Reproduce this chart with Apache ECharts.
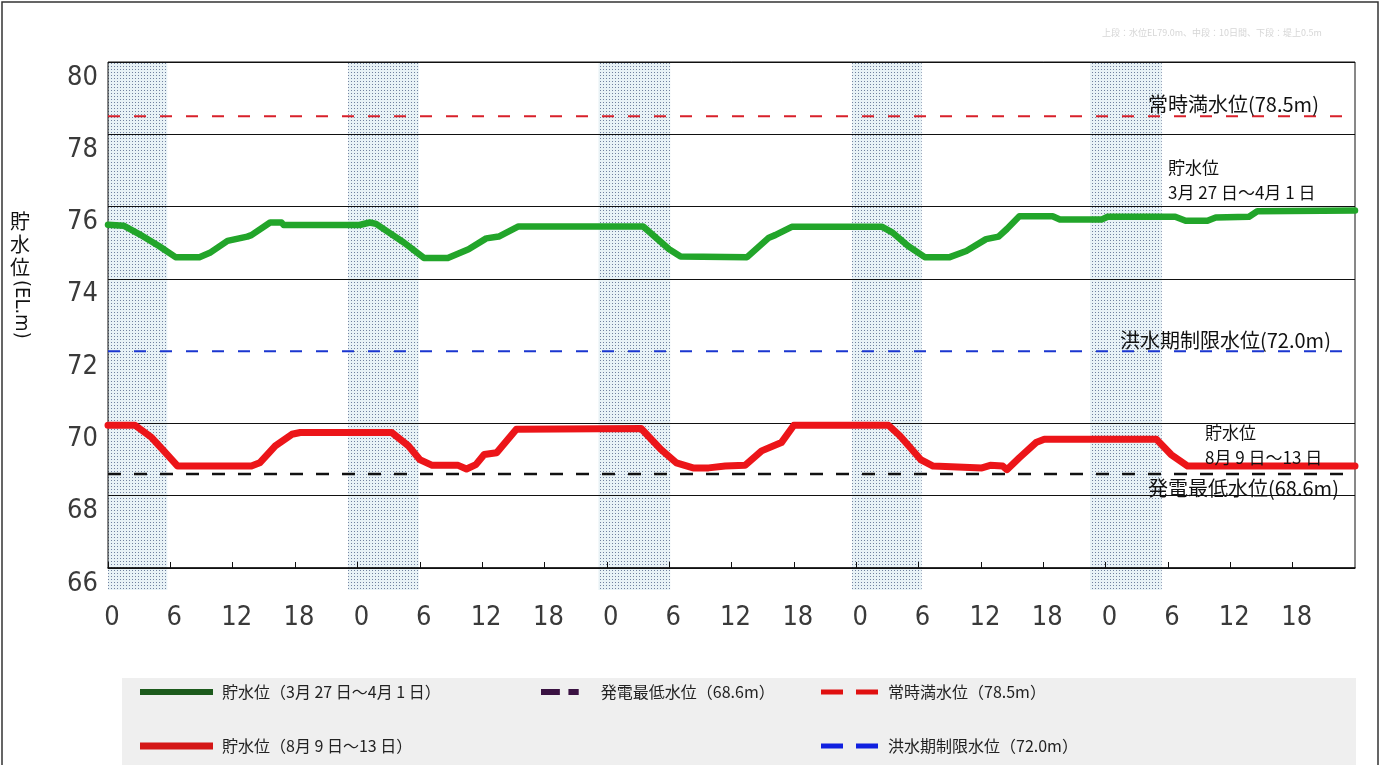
<!DOCTYPE html>
<html><head><meta charset="utf-8">
<script src="https://cdn.jsdelivr.net/npm/echarts@6/dist/echarts.min.js"></script>
<style>html,body{margin:0;padding:0;background:#fff}#c{width:1383px;height:765px}</style>
</head><body><div id="c"></div>
<script>
// ---- data (hours from start, water level EL.m) ----
const hourTickLabels = ['0', '6', '12', '18'];
const yMin = 66, yMax = 80, yStep = 2;
const xMin = 0, xMax = 120, xStep = 6;

const greenName = '貯水位（3月 27 日～4月 1 日）';
const redName = '貯水位（8月 9 日～13 日）';
const lowName = '発電最低水位（68.6m）';
const fullName = '常時満水位（78.5m）';
const floodName = '洪水期制限水位（72.0m）';

const greenLevel = [
  [0,75.50],[1.5,75.47],[3,75.24],[4.9,74.91],[6.5,74.60],[8.8,74.60],[9.8,74.72],[11.5,75.05],
  [13.4,75.17],[13.8,75.21],[15.6,75.56],[16.7,75.56],[16.9,75.49],[24.2,75.49],[25.2,75.56],
  [25.8,75.52],[28.5,75.00],[30.4,74.58],[32.7,74.58],[34.7,74.82],[36.4,75.12],[37.6,75.17],
  [39.5,75.45],[51.5,75.45],[54.0,74.82],[55.1,74.62],[61.5,74.60],[63.6,75.14],[64.2,75.21],
  [65.8,75.44],[74.5,75.44],[75.5,75.28],[77.0,74.91],[78.6,74.60],[81.0,74.60],[82.6,74.77],
  [84.5,75.10],[85.7,75.17],[86.5,75.38],[87.7,75.73],[90.9,75.73],[91.6,75.64],[95.6,75.64],
  [96.2,75.72],[102.7,75.72],[103.7,75.61],[105.8,75.61],[106.6,75.70],[109.8,75.72],
  [110.6,75.87],[120,75.89]
];
const redLevel = [
  [0,69.95],[2.6,69.95],[4.2,69.61],[5.7,69.14],[6.7,68.82],[13.8,68.82],[14.6,68.91],[16.1,69.38],
  [17.7,69.70],[18.5,69.75],[27.3,69.75],[28.9,69.38],[30.0,69.00],[31.2,68.84],[33.7,68.84],
  [34.5,68.74],[35.4,68.86],[36.2,69.14],[37.4,69.19],[39.3,69.84],[51.3,69.86],[53.2,69.28],
  [54.7,68.91],[56.3,68.77],[57.8,68.77],[59.4,68.82],[61.3,68.84],[62.9,69.24],[64.8,69.47],
  [66.0,69.95],[75.1,69.95],[76.2,69.66],[78.2,69.00],[79.4,68.82],[84.1,68.77],[84.9,68.84],
  [86.1,68.82],[86.5,68.72],[87.7,69.05],[89.3,69.47],[90.1,69.56],[100.9,69.56],[102.3,69.14],
  [103.9,68.82],[120,68.82]
];
const fullLevel = [[0,78.5],[120,78.5]];
const floodLevel = [[0,72.0],[120,72.0]];
const lowLevel = [[0,68.6],[120,68.6]];
const shadeRanges = [[0,5.7],[23.1,29.9],[47.2,54.1],[71.6,78.3],[94.5,101.4]];

// ---- dotted fill pattern ----
const pc = document.createElement('canvas');
pc.width = 3; pc.height = 3;
const px = pc.getContext('2d');
px.fillStyle = '#e8f2f6'; px.fillRect(0,0,3,3);
px.fillStyle = '#71819f'; px.fillRect(0,0,1,1);

const numFont = '"DejaVu Sans Condensed","Liberation Sans Narrow","DejaVu Sans",sans-serif';
const jpFont = '"Noto Sans CJK JP","Noto Sans",sans-serif';

const chart = echarts.init(document.getElementById('c'), null, {renderer:'canvas'});

function legendItem(name, left, top, icon, w, h, color, pad) {
  return {
    data: [{name: name, icon: icon, itemStyle: {color: color, borderWidth: 0}}],
    left: left, top: top, padding: 0, itemWidth: w, itemHeight: h,
    selectedMode: false,
    textStyle: {fontFamily: jpFont, fontSize: 16, color: '#222', padding: [0,0,0,pad]}
  };
}

const option = {
  animation: false,
  backgroundColor: '#fff',
  grid: [
    {left: 108, right: 28, top: 62, bottom: 197, show: true, borderColor: '#111', borderWidth: 1, z: 2},
    {left: 108, right: 28, top: 62, bottom: 175, z: 0}
  ],
  xAxis: [
    {type: 'value', gridIndex: 0, min: xMin, max: xMax, interval: xStep, z: 3,
     axisLine: {show: true, lineStyle: {color: '#111', width: 1.5}},
     axisTick: {show: true, inside: true, length: 6, lineStyle: {color: '#111'}},
     splitLine: {show: false},
     axisLabel: {showMaxLabel: false, margin: 36, color: '#3a3a3a', fontFamily: numFont, fontSize: 27,
       padding: [0,0,0,8],
       formatter: v => hourTickLabels[Math.round((v % 24) / 6)]}},
    {type: 'value', gridIndex: 1, min: xMin, max: xMax, show: false}
  ],
  yAxis: [
    {type: 'value', gridIndex: 0, min: yMin, max: yMax, interval: yStep, z: 3,
     axisLine: {show: false}, axisTick: {show: false},
     splitLine: {show: true, lineStyle: {color: ['#111','#111','#111','rgba(0,0,0,0)','#111','#111','#111','#111'], width: 1.2}},
     axisLabel: {margin: 10, color: '#3a3a3a', fontFamily: numFont, fontSize: 27,
       verticalAlign: 'top', padding: [2,0,0,0]}},
    {type: 'value', gridIndex: 1, min: 0, max: 1, show: false}
  ],
  legend: [
    legendItem(greenName, 140, 684, 'rect', 73, 6, '#1c5a1c', 4),
    legendItem(redName, 140, 738, 'rect', 73, 7, '#d41616', 4),
    legendItem(lowName, 541, 684, 'path://M0,0H22V7H0Z M32,0H44V7H32Z', 44, 6, '#3a1242', 14),
    legendItem(fullName, 821, 684, 'path://M0,0H22V5H0Z M35,0H57V5H35Z', 57, 5, '#e01010', 5),
    legendItem(floodName, 821, 738, 'path://M0,0H22V5H0Z M35,0H57V5H35Z', 57, 6, '#1020e0', 5)
  ],
  graphic: [
    {type: 'rect', z: -10, shape: {x: 2, y: 2, width: 1376, height: 800}, style: {fill: 'none', stroke: '#333', lineWidth: 1.5}},
    {type: 'rect', z: -5, shape: {x: 122, y: 678, width: 1234, height: 100}, style: {fill: '#efefef'}},
    {type: 'text', x: 1102, y: 33, style: {text: '上段：水位EL79.0m、中段：10日間、下段：堤上0.5m', fill: '#d6d6d6', font: '9px ' + jpFont, verticalAlign: 'middle'}},
    {type: 'text', x: 10, y: 210, style: {text: '貯\n水\n位', fill: '#111', font: '20px ' + jpFont, lineHeight: 23}},
    {type: 'text', x: 21, y: 280, rotation: -Math.PI / 2, style: {text: '(EL.m)', fill: '#111', font: '20px ' + numFont, verticalAlign: 'middle'}},
    {type: 'text', x: 1148, y: 104, z: 20, style: {text: '常時満水位(78.5m)', fill: '#111', font: '20px ' + jpFont, verticalAlign: 'middle'}},
    {type: 'text', x: 1168, y: 168, z: 20, style: {text: '貯水位', fill: '#111', font: '17px ' + jpFont, verticalAlign: 'middle'}},
    {type: 'text', x: 1168, y: 193, z: 20, style: {text: '3月 27 日～4月 1 日', fill: '#111', font: '17px ' + jpFont, verticalAlign: 'middle'}},
    {type: 'text', x: 1120, y: 340, z: 20, style: {text: '洪水期制限水位(72.0m)', fill: '#111', font: '20px ' + jpFont, verticalAlign: 'middle'}},
    {type: 'text', x: 1205, y: 433, z: 20, style: {text: '貯水位', fill: '#111', font: '17px ' + jpFont, verticalAlign: 'middle'}},
    {type: 'text', x: 1205, y: 458, z: 20, style: {text: '8月 9 日～13 日', fill: '#111', font: '17px ' + jpFont, verticalAlign: 'middle'}},
    {type: 'text', x: 1148, y: 488, z: 20, style: {text: '発電最低水位(68.6m)', fill: '#111', font: '20px ' + jpFont, verticalAlign: 'middle'}}
  ],
  series: [
    {type: 'line', xAxisIndex: 1, yAxisIndex: 1, z: 1, data: [], silent: true,
     markArea: {silent: true, itemStyle: {color: {image: pc, repeat: 'repeat'}},
       data: shadeRanges.map(r => [{xAxis: r[0]}, {xAxis: r[1]}])}},
    {name: fullName, type: 'line', data: fullLevel, z: 5, symbol: 'none', silent: true,
     lineStyle: {color: '#d8202a', width: 2, type: [12, 14]}},
    {name: floodName, type: 'line', data: floodLevel, z: 5, symbol: 'none', silent: true,
     lineStyle: {color: '#1a36d0', width: 2, type: [12, 14]}},
    {name: lowName, type: 'line', data: lowLevel, z: 5, symbol: 'none', silent: true,
     lineStyle: {color: '#111', width: 2.5, type: [13, 13]}},
    {name: greenName, type: 'line', data: greenLevel, z: 6, symbol: 'none', silent: true,
     lineStyle: {color: '#22a52a', width: 6.5, cap: 'round', join: 'round'}},
    {name: redName, type: 'line', data: redLevel, z: 6, symbol: 'none', silent: true,
     lineStyle: {color: '#ec1519', width: 7, cap: 'round', join: 'round'}}
  ]
};
chart.setOption(option);
</script>
</body></html>
